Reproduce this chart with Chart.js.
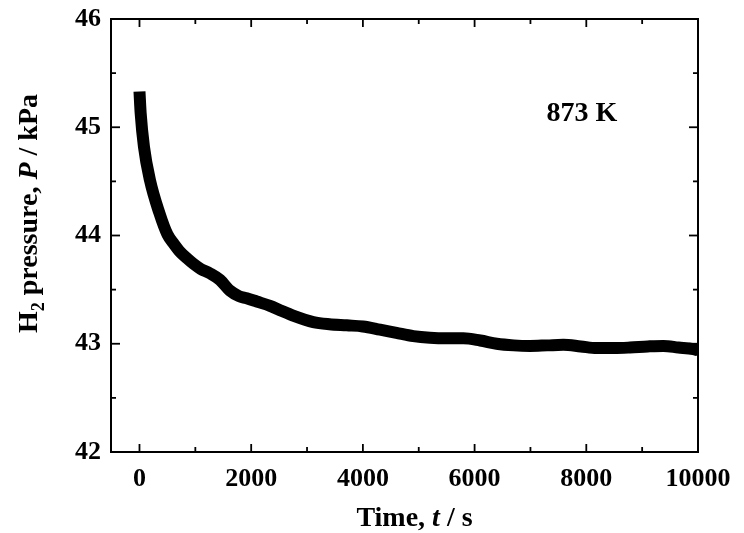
<!DOCTYPE html>
<html>
<head>
<meta charset="utf-8">
<script src="https://cdn.jsdelivr.net/npm/chart.js@4/dist/chart.umd.min.js"></script>
<style>
html,body{margin:0;padding:0;background:#fff;}
#wrap{width:744px;height:533px;}
</style>
</head>
<body>
<div id="wrap"><canvas id="c" width="744" height="533"></canvas></div>
<script>
const timeS = [0, 21, 80, 188, 355, 500, 620, 725, 850, 963, 1100, 1262, 1441, 1620, 1780, 1920, 2100, 2337, 2516, 2750, 3112, 3400, 3710, 4000, 4307, 4600, 4903, 5200, 5500, 5798, 6100, 6396, 6700, 6992, 7300, 7588, 7900, 8186, 8500, 8783, 9100, 9380, 9650, 9915, 10000];
const pressureKPa = [45.33, 45.13, 44.82, 44.51, 44.21, 44.01, 43.92, 43.85, 43.79, 43.74, 43.69, 43.65, 43.59, 43.49, 43.44, 43.42, 43.39, 43.35, 43.31, 43.26, 43.20, 43.18, 43.17, 43.16, 43.13, 43.10, 43.07, 43.055, 43.05, 43.05, 43.03, 43.00, 42.985, 42.98, 42.985, 42.99, 42.975, 42.96, 42.96, 42.965, 42.975, 42.98, 42.965, 42.95, 42.94];
const xMajorTicks = [0, 2000, 4000, 6000, 8000, 10000];
const xMinorTicks = [1000, 3000, 5000, 7000, 9000];
const yMajorTicks = [42, 43, 44, 45, 46];
const yMinorTicks = [42.5, 43.5, 44.5, 45.5];
const tempLabel = "873 K";

const FONT = '"Liberation Serif", "Times New Roman", serif';

const points = timeS.map((t, i) => ({x: t, y: pressureKPa[i]}));

const framePlugin = {
  id: 'frame',
  afterDraw(chart) {
    const {ctx, chartArea: a, scales} = chart;
    const xs = scales.x, ys = scales.y;
    ctx.save();
    ctx.strokeStyle = '#000';
    ctx.lineWidth = 2;
    ctx.strokeRect(a.left, a.top, a.right - a.left, a.bottom - a.top);
    ctx.lineWidth = 1.8;
    const tick = (x1, y1, x2, y2) => { ctx.beginPath(); ctx.moveTo(x1, y1); ctx.lineTo(x2, y2); ctx.stroke(); };
    xMajorTicks.forEach(v => { const p = xs.getPixelForValue(v); tick(p, a.bottom, p, a.bottom - 8); tick(p, a.top, p, a.top + 8); });
    xMinorTicks.forEach(v => { const p = xs.getPixelForValue(v); tick(p, a.bottom, p, a.bottom - 5); tick(p, a.top, p, a.top + 5); });
    yMajorTicks.forEach(v => { const p = ys.getPixelForValue(v); tick(a.left, p, a.left + 9, p); tick(a.right, p, a.right - 9, p); });
    yMinorTicks.forEach(v => { const p = ys.getPixelForValue(v); tick(a.left, p, a.left + 5, p); tick(a.right, p, a.right - 5, p); });

    ctx.fillStyle = '#000';
    ctx.textBaseline = 'alphabetic';
    // x title: "Time, t / s"
    const cx = (a.left + a.right) / 2 + 10;
    const ty = 526;
    const parts = [['bold 28px ' + FONT, 'Time, '], ['italic bold 28px ' + FONT, 't'], ['bold 28px ' + FONT, ' / s']];
    let total = 0;
    parts.forEach(p => { ctx.font = p[0]; total += ctx.measureText(p[1]).width; });
    let x = cx - total / 2;
    ctx.textAlign = 'left';
    parts.forEach(p => { ctx.font = p[0]; ctx.fillText(p[1], x, ty); x += ctx.measureText(p[1]).width; });

    // y title rotated
    ctx.save();
    ctx.translate(37, (a.top + a.bottom) / 2 - 22);
    ctx.rotate(-Math.PI / 2);
    const yparts = [['bold 28px ' + FONT, 'H', 0], ['bold 18px ' + FONT, '2', 7], ['bold 28px ' + FONT, ' pressure, ', 0], ['italic bold 28px ' + FONT, 'P', 0], ['bold 28px ' + FONT, ' / kPa', 0]];
    total = 0;
    yparts.forEach(p => { ctx.font = p[0]; total += ctx.measureText(p[1]).width; });
    x = -total / 2;
    yparts.forEach(p => { ctx.font = p[0]; ctx.fillText(p[1], x, p[2]); x += ctx.measureText(p[1]).width; });
    ctx.restore();

    // temperature label
    ctx.font = 'bold 28px ' + FONT;
    ctx.textAlign = 'center';
    ctx.textBaseline = 'middle';
    ctx.fillText(tempLabel, a.left + (a.right - a.left) * 0.802, a.top + (a.bottom - a.top) * 0.218);
    ctx.restore();
  }
};

new Chart(document.getElementById('c'), {
  type: 'line',
  data: {
    datasets: [{
      data: points,
      borderColor: '#000',
      borderWidth: 12,
      borderCapStyle: 'butt',
      borderJoinStyle: 'round',
      pointRadius: 0,
      cubicInterpolationMode: 'monotone',
      fill: false
    }]
  },
  options: {
    responsive: false,
    animation: false,
    layout: {padding: {left: 0, right: 46, top: 19, bottom: 0}},
    plugins: {legend: {display: false}, tooltip: {enabled: false}},
    scales: {
      x: {
        type: 'linear',
        min: -510,
        max: 10000,
        afterBuildTicks(s) { s.ticks = xMajorTicks.map(v => ({value: v})); },
        afterFit(s) { s.height = 81; s.paddingLeft = 0; s.paddingRight = 0; },
        grid: {display: false, drawTicks: false},
        border: {display: false},
        ticks: {color: '#000', font: {family: FONT, size: 26, weight: 'bold'}, padding: 12, maxRotation: 0, autoSkip: false,
                callback: v => String(v)}
      },
      y: {
        type: 'linear',
        min: 42,
        max: 46,
        afterBuildTicks(s) { s.ticks = yMajorTicks.map(v => ({value: v})); },
        afterFit(s) { s.width = 111; s.paddingTop = 0; s.paddingBottom = 0; },
        grid: {display: false, drawTicks: false},
        border: {display: false},
        ticks: {color: '#000', font: {family: FONT, size: 26, weight: 'bold'}, padding: 10, autoSkip: false,
                callback: v => String(v)}
      }
    }
  },
  plugins: [framePlugin]
});
</script>
</body>
</html>
